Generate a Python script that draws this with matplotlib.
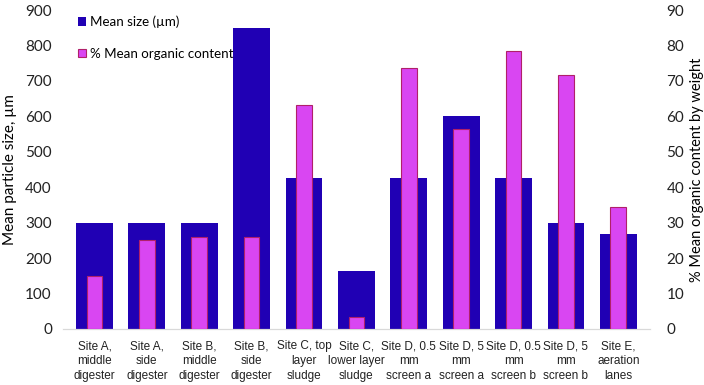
import matplotlib.pyplot as plt
import numpy as np

categories = ['Site A,\nmiddle\ndigester', 'Site A,\nside\ndigester', 'Site B,\nmiddle\ndigester',
              'Site B,\nside\ndigester', 'Site C, top\nlayer\nsludge', 'Site C,\nlower layer\nsludge',
              'Site D, 0.5\nmm\nscreen a', 'Site D, 5\nmm\nscreen a', 'Site D, 0.5\nmm\nscreen b',
              'Site D, 5\nmm\nscreen b', 'Site E,\naeration\nlanes']
mean_size = [300, 300, 300, 850, 425, 165, 425, 600, 425, 300, 268]
organic = [15, 25, 26, 26, 63.3, 3.5, 73.7, 56.3, 78.3, 71.8, 34.3]

plt.rcParams['font.family'] = ['Lato', 'DejaVu Sans']

fig = plt.figure(figsize=(7.04, 3.85), dpi=100)
ax = fig.add_axes([0.0895, 0.1455, 0.8335, 0.8285])
ax2 = ax.twinx()

x = np.arange(len(categories))
b1 = ax.bar(x, mean_size, width=0.7, color='#2000B4', zorder=2)
b2 = ax2.bar(x, organic, width=0.3, color='#D946F2', edgecolor='#B0206A', linewidth=0.8, zorder=3)

ax.set_ylim(0, 900)
ax.set_yticks(range(0, 901, 100))
ax2.set_ylim(0, 90)
ax2.set_yticks(range(0, 91, 10))
ax.set_xlim(-0.6, len(categories) - 0.4)

for a in (ax, ax2):
    for s in ['top', 'left', 'right']:
        a.spines[s].set_visible(False)
    a.spines['bottom'].set_color('#d9d9d9')
    a.tick_params(length=0, colors='#222222')
    a.tick_params(axis='y', labelsize=11)
ax.tick_params(axis='x', pad=8)
ax.tick_params(axis='y', pad=8)
ax2.tick_params(axis='y', pad=12)

ax.set_xticks(x)
ax.set_xticklabels(categories, fontsize=8.5, family=['Liberation Sans', 'DejaVu Sans'],
                   linespacing=1.35)

ax.set_ylabel('Mean particle size, µm', fontsize=11, labelpad=6)
ax2.set_ylabel('% Mean organic content by weight', fontsize=10.5, labelpad=4)

ax.legend([b1, b2], ['Mean size (µm)', '% Mean organic content'], loc='upper left',
          bbox_to_anchor=(0.005, 1.02), frameon=False, fontsize=9.6, handlelength=0.6,
          handleheight=0.6, handletextpad=0.3, labelspacing=1.45)
ax2.set_zorder(ax.get_zorder() + 1)
ax2.patch.set_visible(False)

fig.savefig('out.png', dpi=100)
